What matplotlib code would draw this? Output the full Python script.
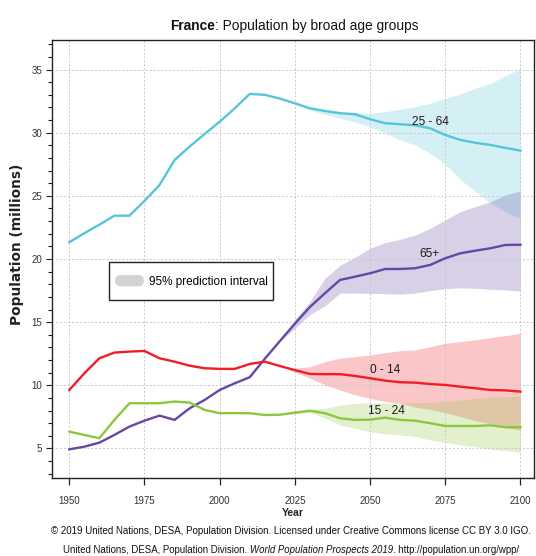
import matplotlib
matplotlib.use('Agg')
import matplotlib.pyplot as plt
import numpy as np
from matplotlib.patches import FancyBboxPatch, Patch, Rectangle
from matplotlib.legend_handler import HandlerPatch
from matplotlib.ticker import MultipleLocator
from matplotlib import font_manager

names = {f.name for f in font_manager.fontManager.ttflist}
NARROW = 'Liberation Sans Narrow' if 'Liberation Sans Narrow' in names else 'Liberation Sans'
plt.rcParams['font.family'] = [NARROW, 'DejaVu Sans']

# ---------------- data ----------------
years = list(range(1950, 2101, 5))
proj_years = list(range(2020, 2101, 5))

age_0_14 = [9.63, 10.95, 12.14, 12.59, 12.67, 12.72, 12.14, 11.87, 11.55, 11.35, 11.3,
            11.3, 11.69, 11.87, 11.53, 11.2, 10.9, 10.88, 10.88, 10.74, 10.56, 10.37,
            10.24, 10.21, 10.1, 10.03, 9.89, 9.77, 9.63, 9.6, 9.5]
age_15_24 = [6.33, 6.07, 5.81, 7.26, 8.58, 8.58, 8.58, 8.71, 8.63, 8.05, 7.79,
             7.8, 7.79, 7.65, 7.67, 7.83, 7.99, 7.79, 7.39, 7.26, 7.28, 7.44,
             7.26, 7.2, 7.0, 6.78, 6.78, 6.78, 6.83, 6.68, 6.68]
age_25_64 = [21.33, 22.04, 22.72, 23.43, 23.43, 24.6, 25.86, 27.84, 28.9, 29.9, 30.87,
             31.93, 33.07, 33.0, 32.7, 32.33, 31.93, 31.72, 31.54, 31.46, 31.07, 30.75,
             30.67, 30.59, 30.35, 29.82, 29.43, 29.2, 29.03, 28.8, 28.58]
age_65p = [4.93, 5.14, 5.46, 6.07, 6.73, 7.2, 7.6, 7.26, 8.18, 8.84, 9.63,
           10.16, 10.64, 12.1, 13.5, 14.88, 16.2, 17.29, 18.34, 18.6, 18.87, 19.21,
           19.21, 19.27, 19.53, 20.06, 20.45, 20.66, 20.85, 21.11, 21.13]

# 95% prediction intervals (2020-2100)
lo_0_14 = [11.53, 11.05, 10.56, 10.03, 9.63, 9.24, 8.97, 8.71, 8.58, 8.26, 8.1,
           7.83, 7.52, 7.2, 6.95, 6.68, 6.45]
hi_0_14 = [11.53, 11.35, 11.48, 11.87, 12.14, 12.27, 12.4, 12.59, 12.74, 12.8, 13.06,
           13.33, 13.46, 13.59, 13.78, 13.93, 14.12]
lo_15_24 = [7.67, 7.75, 7.85, 7.4, 6.86, 6.6, 6.33, 6.15, 6.07, 5.94, 5.67,
            5.46, 5.28, 5.14, 4.93, 4.83, 4.67]
hi_15_24 = [7.67, 7.9, 8.1, 8.18, 8.44, 8.58, 8.6, 8.6, 8.6, 8.62, 8.66,
            8.72, 8.84, 8.97, 9.05, 9.1, 9.16]
lo_25_64 = [32.7, 32.25, 31.8, 31.45, 31.15, 30.85, 30.48, 29.95, 29.43, 29.03, 28.37,
            27.5, 26.3, 25.33, 24.45, 23.75, 23.2]
hi_25_64 = [32.7, 32.4, 32.0, 31.8, 31.7, 31.6, 31.54, 31.67, 31.86, 32.06, 32.33,
            32.73, 33.07, 33.52, 33.9, 34.5, 35.1]
lo_65p = [13.5, 14.5, 15.6, 16.3, 17.3, 17.3, 17.28, 17.25, 17.22, 17.3, 17.5,
          17.65, 17.72, 17.68, 17.6, 17.55, 17.45]
hi_65p = [13.5, 15.2, 16.62, 18.47, 19.5, 20.14, 20.85, 21.3, 21.56, 21.9, 22.43,
          23.1, 23.75, 24.15, 24.54, 25.07, 25.41]

group_labels = ['0 - 14', '15 - 24', '25 - 64', '65+']
x_ticks = [1950, 1975, 2000, 2025, 2050, 2075, 2100]
y_ticks = [5, 10, 15, 20, 25, 30, 35]

# ---------------- style ----------------
C_CYAN = '#55C6DA'
C_PURPLE = '#6647A3'
C_RED = '#F01E24'
C_GREEN = '#8DC63F'

W, H = 536, 556
fig = plt.figure(figsize=(W / 100, H / 100), dpi=100)
ax = fig.add_axes([52 / W, 1 - 478 / H, (534 - 52) / W, (478 - 40) / H])

series = [
    (age_25_64, lo_25_64, hi_25_64, C_CYAN, group_labels[2], (2070, 30.87)),
    (age_65p, lo_65p, hi_65p, C_PURPLE, group_labels[3], (2069.8, 20.4)),
    (age_0_14, lo_0_14, hi_0_14, C_RED, group_labels[0], (2055, 11.25)),
    (age_15_24, lo_15_24, hi_15_24, C_GREEN, group_labels[1], (2055.4, 7.95)),
]

for vals, lo, hi, col, lab, pos in series:
    ax.fill_between(proj_years, lo, hi, color=col, alpha=0.25, lw=0, zorder=1)
for vals, lo, hi, col, lab, pos in series:
    ax.plot(years, vals, color=col, lw=1.7, zorder=3, solid_joinstyle='miter')
    ax.text(pos[0], pos[1], lab, ha='center', va='center', fontsize=8.6,
            color='#1a1a1a', zorder=4)

ax.set_xlim(1944.25, 2104.5)
ax.set_ylim(2.66, 37.34)
ax.set_xticks(x_ticks)
ax.set_yticks(y_ticks)
ax.yaxis.set_minor_locator(MultipleLocator(1))
ax.tick_params(axis='both', which='major', labelsize=7, colors='#222222',
               labelcolor='#333333', direction='out')
ax.tick_params(axis='x', length=5, width=0.9, pad=8)
ax.tick_params(axis='y', length=4, width=0.8, pad=3)
ax.tick_params(axis='y', which='minor', length=3, width=0.8, colors='#222222')
ax.grid(True, which='major', color='#C8C8C8', linestyle=(0, (2, 2)), lw=0.7, zorder=0)
for s in ax.spines.values():
    s.set_color('#222222')
    s.set_linewidth(1.0)

ax.set_ylabel('Population (millions)', fontsize=9.9, fontweight='bold',
              family=['DejaVu Sans'], color='#222222')
ax.yaxis.set_label_coords(-0.058, 0.534)
ax.set_xlabel('Year', fontsize=7.5, fontweight='bold', color='#222222')
ax.xaxis.set_label_coords(0.5, -0.068)

# legend
def make_round(legend, orig_handle, xdescent, ydescent, width, height, fontsize):
    return FancyBboxPatch((-xdescent, -ydescent), width, height,
                          boxstyle="round,pad=0,rounding_size=%f" % (height / 2))

leg_handle = Patch(facecolor='#D3D3D3', edgecolor='none')
leg = ax.legend([leg_handle], ['95% prediction interval'], loc='upper left',
                bbox_to_anchor=(115 / W, 1 - 275 / H), bbox_transform=fig.transFigure,
                borderaxespad=0, fontsize=8.5, frameon=False, handlelength=2.45,
                handleheight=1.1, handletextpad=0.4, borderpad=0,
                handler_map={Patch: HandlerPatch(patch_func=make_round)})
leg.set_zorder(6)

renderer = fig.canvas.get_renderer()
fig.canvas.draw()
bb = leg.get_window_extent(renderer)
x0, x1 = 109, bb.x1 + 5
y_top, y_bot = 262, 300
frame = Rectangle((x0 / W, 1 - y_bot / H), (x1 - x0) / W, (y_bot - y_top) / H,
                  transform=fig.transFigure, facecolor='white', edgecolor='#222222',
                  lw=1.0, zorder=5)
ax.add_artist(frame)
frame.set_clip_on(False)

# text runs helper
def draw_runs(runs, xc_px, y_px, fontsize, color='#111111', target=None):
    def build(fs):
        ts = []
        for s, props, gap in runs:
            t = fig.text(0, 1 - y_px / H, s, va='center', ha='left', fontsize=fs,
                         color=color, **props)
            ts.append((t, gap))
        ws = [t.get_window_extent(renderer).width + gap * fs * 100 / 72 for t, gap in ts]
        return ts, ws
    texts, widths = build(fontsize)
    if target is not None:
        fs = fontsize * target / sum(widths)
        for t, g in texts:
            t.remove()
        texts, widths = build(fs)
    total = sum(widths)
    x = xc_px - total / 2
    for (t, gap), w in zip(texts, widths):
        t.set_x(x / W)
        x += w

draw_runs([('France', {'fontweight': 'bold'}, 0.0),
           (': Population by broad age groups', {}, 0.0)], 294, 26, 9.9)
draw_runs([('© 2019 United Nations, DESA, Population Division. Licensed under Creative Commons license CC BY 3.0 IGO.', {}, 0.0)],
          291, 531, 8.0, target=482)
draw_runs([('United Nations, DESA, Population Division.', {}, 0.25),
           ('World Population Prospects 2019', {'style': 'italic'}, 0.0),
           ('. http://population.un.org/wpp/', {}, 0.0)], 291, 550, 8.0, target=462)

fig.savefig('out.png', dpi=100, facecolor='white')
